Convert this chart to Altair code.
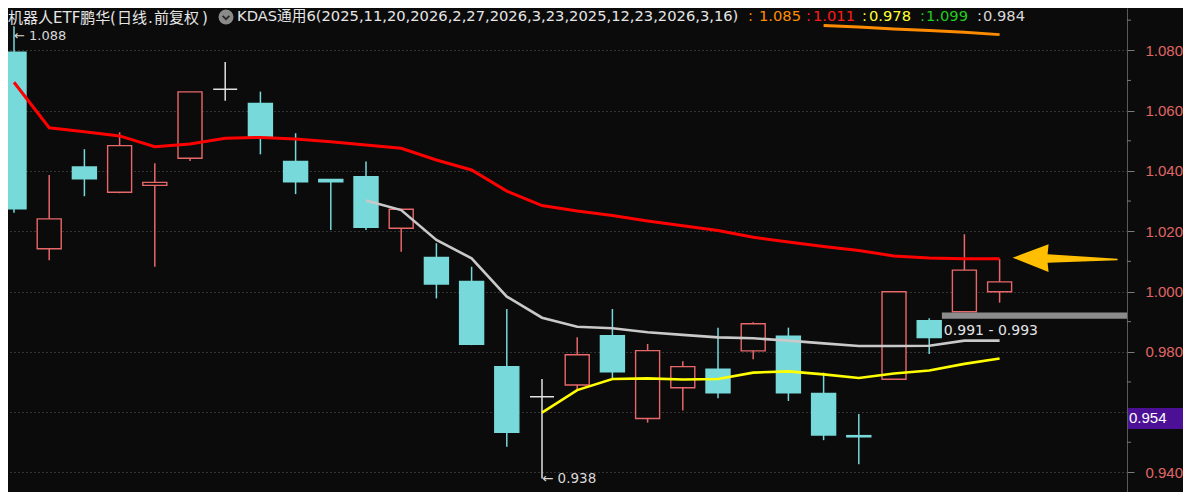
import altair as alt
import pandas as pd

# ---------------- data ----------------
idx = list(range(1, 30))
open_ = [1.0794, 1.0142, 1.0413, 1.0329, 1.0352, 1.0442, 1.0671, 1.0624, 1.0431, 1.0372,
         1.0381, 1.0210, 1.0113, 1.0033, 0.9751, 0.9651, 0.9690, 0.9853, 0.9579, 0.9681,
         0.9742, 0.9803, 0.9852, 0.9662, 0.9522, 0.9709, 0.9903, 0.9933, 0.9999]
high = [1.0880, 1.0386, 1.0472, 1.0528, 1.0425, 1.0662, 1.0761, 1.0663, 1.0525, 1.0372,
        1.0431, 1.0273, 1.0160, 1.0082, 0.9942, 0.9710, 0.9848, 0.9942, 0.9826, 0.9769,
        0.9880, 0.9898, 0.9880, 0.9731, 0.9594, 0.9999, 0.9911, 1.0190, 1.0108]
low = [1.0261, 1.0104, 1.0316, 1.0326, 1.0082, 1.0433, 1.0633, 1.0455, 1.0323, 1.0204,
       1.0204, 1.0132, 0.9977, 0.9822, 0.9485, 0.9380, 0.9673, 0.9712, 0.9565, 0.9605,
       0.9646, 0.9775, 0.9637, 0.9507, 0.9427, 0.9709, 0.9793, 0.9933, 0.9963]
close = [1.0274, 1.0241, 1.0374, 1.0484, 1.0362, 1.0662, 1.0671, 1.0513, 1.0364, 1.0364,
         1.0213, 1.0273, 1.0025, 0.9825, 0.9533, 0.9651, 0.9790, 0.9734, 0.9804, 0.9751,
         0.9664, 0.9893, 0.9664, 0.9524, 0.9518, 0.9999, 0.9847, 1.0071, 1.0032]

red_line = [1.0694, 1.0543, 1.0530, 1.0516, 1.0480, 1.0489, 1.0508, 1.0511, 1.0506, 1.0497,
            1.0486, 1.0475, 1.0436, 1.0403, 1.0333, 1.0285, 1.0267, 1.0252, 1.0234, 1.0218,
            1.0202, 1.0180, 1.0164, 1.0149, 1.0136, 1.0118, 1.0111, 1.0109, 1.0109]
gray_idx = list(range(11, 30))
gray_line = [1.0302, 1.0270, 1.0171, 1.0110, 0.9983, 0.9913, 0.9883, 0.9878, 0.9865, 0.9856,
             0.9848, 0.9845, 0.9837, 0.9828, 0.9819, 0.9819, 0.9820, 0.9837, 0.9837]
yellow_idx = list(range(16, 30))
yellow_line = [0.9598, 0.9673, 0.9710, 0.9712, 0.9708, 0.9710, 0.9731, 0.9735, 0.9725, 0.9713,
               0.9728, 0.9738, 0.9760, 0.9778]
orange_idx = list(range(24, 30))
orange_line = [1.0882, 1.0877, 1.0871, 1.0866, 1.0860, 1.0852]

y_ticks = [0.94, 0.96, 0.98, 1.00, 1.02, 1.04, 1.06, 1.08]
y_minor = [0.95, 0.97, 0.99, 1.01, 1.03, 1.05, 1.07, 1.09]

band_lo, band_hi, band_start = 0.991, 0.993, 27.36
box_lo, box_hi, box_label = 0.9544, 0.9614, "0.954"
arrow_x, arrow_y = 30.86, 1.0110

title_parts = ["机器人ETF鹏华", "(", "日线", ".", "前复权", ")"]
title_ind = "KDAS通用6(2025,11,20,2026,2,27,2026,3,23,2025,12,23,2026,3,16)"
title_vals = ["1.085", "1.011", "0.978", "1.099", "0.984"]

# ---------------- styling ----------------
BG = "#0b0b0b"
UP = "#e8686a"
DOWN = "#78d9da"
FLAT = "#e2e2e2"
W, H = 1119, 484
RPAD = 56
XDOM = [0.8295, 32.6193]
YDOM = [0.9335, 1.09403]
FONT = "DejaVu Sans, Noto Sans CJK SC"

xs = alt.Scale(domain=XDOM, nice=False, zero=False, padding=0)
ys = alt.Scale(domain=YDOM, nice=False, zero=False, padding=0)
yaxis = alt.Axis(orient="right", values=y_ticks, title=None,
                 labelExpr="abs(datum.value - 0.96) < 0.0001 ? '' : format(datum.value, '.3f')",
                 labelColor="#e06666", labelFont="Liberation Sans", labelFontSize=15,
                 labelPadding=11, labelAlign="left", labelBaseline="middle",
                 labelOverlap=False, labelFlush=False,
                 tickSize=7, tickColor="#7a7a7a", domainColor="#5a5a5a",
                 grid=True, gridColor="#5e5e5e", gridDash=[1, 3], gridWidth=1)


def X(f):
    return alt.X(f"{f}:Q", scale=xs, axis=None)


def Y(f):
    return alt.Y(f"{f}:Q", scale=ys, axis=yaxis)


df = pd.DataFrame({"i": idx, "open": open_, "high": high, "low": low, "close": close})
df["dir"] = ["up" if c > o else ("down" if c < o else "flat") for o, c in zip(open_, close)]
dirs = ["up", "down", "flat"]

wicks = alt.Chart(df).mark_rule(strokeWidth=1.5).encode(
    x=X("i"), y=Y("low"), y2="high:Q",
    color=alt.Color("dir:N", scale=alt.Scale(domain=dirs, range=[UP, DOWN, FLAT]), legend=None))

bodies = alt.Chart(df).mark_bar(size=24, strokeWidth=1.4).encode(
    x=X("i"), y=Y("open"), y2="close:Q",
    fill=alt.Fill("dir:N", scale=alt.Scale(domain=dirs, range=[BG, DOWN, FLAT]), legend=None),
    stroke=alt.Stroke("dir:N", scale=alt.Scale(domain=dirs, range=[UP, DOWN, FLAT]), legend=None))


def line(ix, vals, color, width):
    d = pd.DataFrame({"i": ix, "v": vals})
    return alt.Chart(d).mark_line(color=color, strokeWidth=width).encode(x=X("i"), y=Y("v"))


red = line(idx, red_line, "#ff0000", 3)
gray = line(gray_idx, gray_line, "#c9c9c9", 2.6)
yellow = line(yellow_idx, yellow_line, "#ffff00", 2.6)
orange = line(orange_idx, orange_line, "#ff8c00", 3)

band_df = pd.DataFrame({"x0": [band_start], "x1": [XDOM[1]], "lo": [band_lo], "hi": [band_hi],
                        "label": [f"{band_lo:.3f} - {band_hi:.3f}"]})
band = alt.Chart(band_df).mark_rect(color="#8c8c8c").encode(
    x=X("x0"), x2="x1:Q", y=Y("hi"), y2="lo:Q")
band_text = alt.Chart(band_df).mark_text(
    align="left", baseline="middle", dx=2, dy=12.5, color="#e4e4e4",
    font="DejaVu Sans", fontSize=14).encode(x=X("x0"), y=Y("lo"), text="label:N")

imax = high.index(max(high))
imin = low.index(min(low))
ext_df = pd.DataFrame({"i": [idx[imax], idx[imin]], "v": [high[imax], low[imin]],
                       "label": [f"← {high[imax]:.3f}", f"← {low[imin]:.3f}"]})
ext_hi = alt.Chart(ext_df.iloc[[0]]).mark_text(
    align="left", baseline="middle", dy=10, color="#d8d8d8", font="DejaVu Sans",
    fontSize=13).encode(x=X("i"), y=Y("v"), text="label:N")
ext_lo = alt.Chart(ext_df.iloc[[1]]).mark_text(
    align="left", baseline="middle", dy=1, color="#d8d8d8", font="DejaVu Sans",
    fontSize=13.5).encode(x=X("i"), y=Y("v"), text="label:N")

arrow_path = ("M-1,-0.013 L-0.314,-0.267 L-0.333,-0.076 L1,0.006 L1,0.038 "
              "L-0.333,0.082 L-0.314,0.261 Z")
arrow_df = pd.DataFrame({"x": [arrow_x], "v": [arrow_y]})
arrow = alt.Chart(arrow_df).mark_point(
    shape=arrow_path, size=11025, filled=True, fill="#ffbf00", strokeWidth=0,
    opacity=1).encode(x=X("x"), y=Y("v"))

minor_df = pd.DataFrame({"v": y_minor})
minor = alt.Chart(minor_df).mark_rule(color="#7a7a7a", strokeWidth=1, clip=False).encode(
    y=Y("v"), x=alt.value(W), x2=alt.value(W + 4))

box_df = pd.DataFrame({"lo": [box_lo], "hi": [box_hi], "mid": [(box_lo + box_hi) / 2],
                       "label": [box_label]})
box = alt.Chart(box_df).mark_rect(color="#4b1096", clip=False).encode(
    y=Y("hi"), y2="lo:Q", x=alt.value(W + 1), x2=alt.value(W + RPAD))
box_text = alt.Chart(box_df).mark_text(
    align="left", baseline="middle", color="#ffffff", font="Liberation Sans", fontSize=15,
    clip=False).encode(y=Y("mid"), x=alt.value(W + 2), text="label:N")

one = alt.Data(values=[{}])


def label(text, x, color, size=14.7, y=9):
    return alt.Chart(one).mark_text(
        align="left", baseline="middle", color=color, font=FONT, fontSize=size).encode(
        x=alt.value(x), y=alt.value(y), text=alt.value(text))


titles = []
for t, px in zip(title_parts, [0, 102, 109, 140, 146, 194]):
    titles.append(label(t, px, "#e6e6e6", size=15, y=10))
titles.append(label(title_ind, 229, "#e6e6e6"))
val_colors = ["#ff8c00", "#ff1a1a", "#ffff33", "#22cc22", "#d8d8d8"]
colon_x = [740, 798, 854, 912, 969]
val_x = [751, 805, 861, 918, 975]
for t, c, cx, vx in zip(title_vals, val_colors, colon_x, val_x):
    titles.append(label(":", cx, c))
    titles.append(label(t, vx, c))

icon = alt.Chart(one).mark_point(shape="circle", size=225, filled=True, fill="#8a8a8a",
                                 strokeWidth=0, opacity=1).encode(
    x=alt.value(218), y=alt.value(9))
chev = alt.Chart(one).mark_point(shape="M-0.45,-0.15L0,0.3L0.45,-0.15", size=225,
                                 filled=False, stroke="#2a2a2a", strokeWidth=1.8,
                                 opacity=1).encode(x=alt.value(218), y=alt.value(9))

chart = alt.layer(
    wicks, bodies, red, gray, yellow, orange, band, band_text, ext_hi, ext_lo, arrow,
    minor, box, box_text, icon, chev, *titles
).properties(
    width=W, height=H,
    padding={"left": 0, "right": RPAD, "top": 0, "bottom": 0},
    autosize=alt.AutoSizeParams(type="none"),
    background=BG,
).configure_view(stroke=None)

chart.save("out.html", embed_options={"renderer": "svg", "actions": False})
